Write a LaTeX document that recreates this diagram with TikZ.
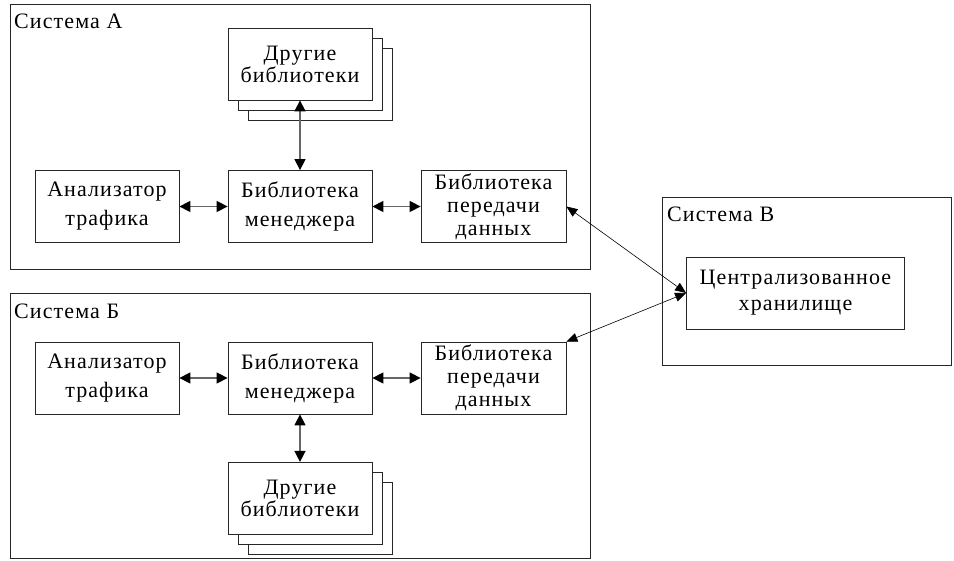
\documentclass[tikz,border=0pt]{standalone}
\usepackage{fontspec}
\setmainfont{Liberation Serif}[LetterSpace=5]
\usetikzlibrary{arrows.meta}
\begin{document}
\begin{tikzpicture}[x=1pt,y=-1pt,
  txt/.style={font=\fontsize{22}{29}\selectfont},
  box/.style={txt, draw=black!85, line width=0.8pt, fill=white, minimum width=144pt, minimum height=72pt, align=center, inner sep=0pt},
  box3/.style={box, minimum width=145pt, font=\fontsize{22}{23}\selectfont},
  boxlib/.style={box, font=\fontsize{22}{22}\selectfont},
  boxc/.style={box, minimum width=218pt, font=\fontsize{22}{26}\selectfont},
  grp/.style={draw=black!85, line width=0.8pt, inner sep=0pt},
  lbl/.style={txt, anchor=base west, inner sep=0pt},
  link/.style={draw=black!60, line width=1.5pt, {Triangle[length=11pt,width=11pt,black]}-{Triangle[length=11pt,width=11pt,black]}},
  dlink/.style={draw=black, line width=0.6pt, {Triangle[length=11pt,width=9pt,black]}-{Triangle[length=11pt,width=9pt,black]}}
]
\useasboundingbox (0,0) rectangle (954,561);
% group frames
\node[grp, minimum width=580pt, minimum height=265pt] (sysA) at (300,136.5) {};
\node[grp, minimum width=580pt, minimum height=265pt] (sysB) at (300,425.5) {};
\node[grp, minimum width=289pt, minimum height=168pt] (sysC) at (806.5,281) {};
\node[lbl] (lA) at (14,29) {Система А};
\node[lbl] (lB) at (14,319) {Система Б};
\node[lbl] (lC) at (667,221.5) {Система В};
% system A
\node[boxlib] (libA3) at (320,84) {};
\node[boxlib] (libA2) at (310,74) {};
\node[boxlib] (libA) at (300,64) {Другие\\библиотеки};
\node[box] (anA) at (107,206.5) {Анализатор\\трафика};
\node[box] (mgA) at (300,206.5) {Библиотека\\менеджера};
\node[box3] (trA) at (493.5,206.5) {Библиотека\\передачи\\данных};
% system B
\node[box] (anB) at (107,378) {Анализатор\\трафика};
\node[box] (mgB) at (300,378) {Библиотека\\менеджера};
\node[box3] (trB) at (493.5,378) {Библиотека\\передачи\\данных};
\node[boxlib] (libB3) at (320,518.3) {};
\node[boxlib] (libB2) at (310,508.3) {};
\node[boxlib] (libB) at (300,498.3) {Другие\\библиотеки};
% system C
\node[boxc] (cent) at (795.5,293) {Централизованное\\хранилище};
% connectors
\draw[link] (anA) -- (mgA);
\draw[link] (mgA) -- (trA);
\draw[link] (libA) -- (mgA);
\draw[link] (anB) -- (mgB);
\draw[link] (mgB) -- (trB);
\draw[link] (mgB) -- (libB);
\draw[dlink] (trA.east) -- (cent.west);
\draw[dlink] (trB.north east) -- (cent.west);
\end{tikzpicture}
\end{document}
